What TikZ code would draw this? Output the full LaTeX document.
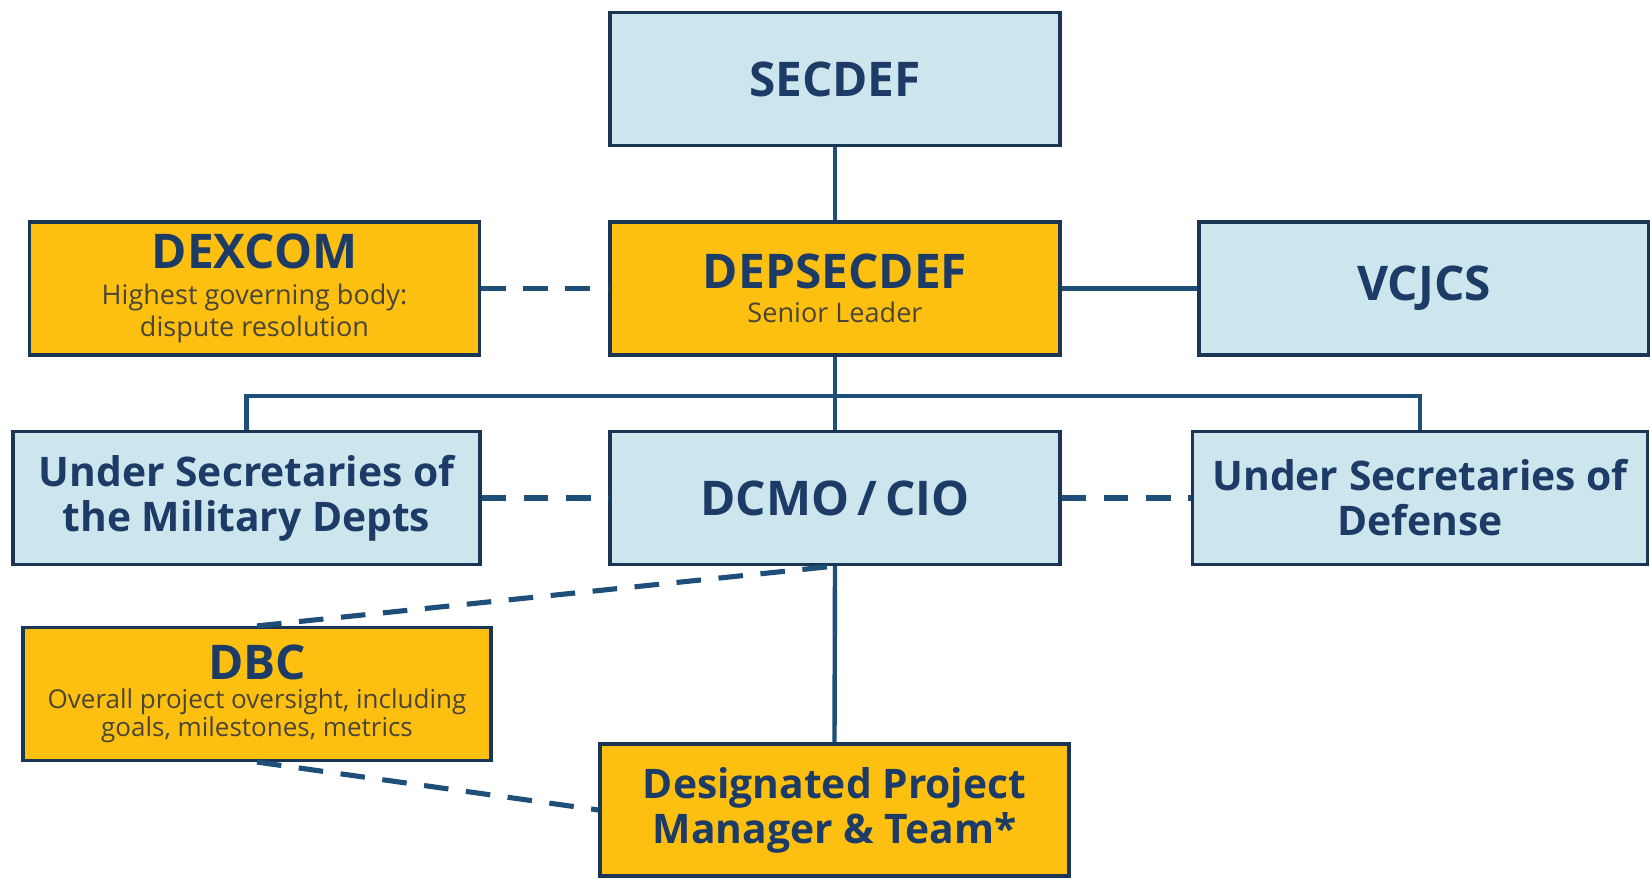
\documentclass[tikz,border=0pt]{standalone}
\usepackage{fontspec}
\setmainfont{Open Sans}
\usepackage{xcolor}
\usepackage{tikz}
\usetikzlibrary{positioning}
\definecolor{BoxBlue}{HTML}{CDE5EC}
\definecolor{BoxGold}{HTML}{FDC010}
\definecolor{EdgeNavy}{HTML}{1B3555}
\definecolor{TextNavy}{HTML}{1C3B66}
\definecolor{SubText}{HTML}{4A4535}
\definecolor{LinkBlue}{HTML}{1E4F78}
\newcommand{\headfnt}{\fontsize{13.6}{15}\selectfont\bfseries}
\newcommand{\subfnt}{\fontsize{7.7}{9}\selectfont\mdseries\color{SubText}}
\newcommand{\smsubfnt}{\fontsize{7.4}{8.5}\selectfont\mdseries\color{SubText}}
\tikzset{
  bluebox/.style={
    draw=EdgeNavy,fill=BoxBlue,line width=0.9pt,
    minimum width=4.5cm,minimum height=1.33cm,
    font=\fontsize{11.6}{12.8}\selectfont\bfseries\color{TextNavy},
    align=center,inner sep=2pt
  },
  goldbox/.style={
    draw=EdgeNavy,fill=BoxGold,line width=0.9pt,
    minimum width=4.5cm,minimum height=1.33cm,
    font=\fontsize{11.6}{12.8}\selectfont\bfseries\color{TextNavy},
    align=center,inner sep=2pt
  },
  link/.style={draw=LinkBlue,line width=1.25pt},
  dashlink/.style={draw=LinkBlue,line width=1.45pt,dash pattern=on 7pt off 5pt},
}
\begin{document}
\begin{tikzpicture}
  \fill[white] (0,0) rectangle (16.5,-8.78);
  \useasboundingbox (0,0) rectangle (16.5,-8.78);
  \node[bluebox] (secdef) at (8.35,-0.79) {\headfnt SECDEF};
  \node[goldbox] (dexcom) at (2.545,-2.885) {\headfnt DEXCOM\\[-2.5pt]\subfnt Highest governing body:\\[-3.6pt]\subfnt dispute resolution};
  \node[goldbox] (depsec) at (8.35,-2.885) {\headfnt DEPSECDEF\\[-3pt]\subfnt Senior Leader};
  \node[bluebox] (vcjcs) at (14.24,-2.885) {\headfnt VCJCS};
  \node[bluebox, minimum width=4.67cm] (usmil) at (2.465,-4.98) {Under Secretaries of\\the Military Depts};
  \node[bluebox] (dcmo) at (8.35,-4.98) {\headfnt DCMO\,/\,CIO};
  \node[bluebox, minimum width=4.55cm] (usdef) at (14.2,-4.98) {Under Secretaries of\\Defense};
  \node[goldbox, minimum width=4.68cm] (dbc) at (2.57,-6.94) {\headfnt DBC\\[-4.5pt]\smsubfnt Overall project oversight, including\\[-4.8pt]\smsubfnt goals, milestones, metrics};
  \node[goldbox, minimum width=4.69cm, minimum height=1.32cm] (dpm) at (8.345,-8.1) {Designated Project\\Manager \& Team*};
  \coordinate (bus) at (8.35,-3.96);
  \draw[link] (secdef.south) -- (depsec.north);
  \draw[link] (depsec.east) -- (vcjcs.west);
  \draw[dashlink] (dexcom.east) -- (depsec.west);
  \draw[link] (depsec.south) -- (dcmo.north);
  \draw[link] (usmil.north) |- (bus) -| (usdef.north);
  \draw[dashlink] (usmil.east) -- (dcmo.west);
  \draw[dashlink] (dcmo.east) -- (usdef.west);
  \draw[link] (dcmo.south) -- (dpm.north);
  \draw[dashlink] (dbc.north) -- (dcmo.south);
  \draw[dashlink] (dbc.south) -- (dpm.west);
\end{tikzpicture}
\end{document}
